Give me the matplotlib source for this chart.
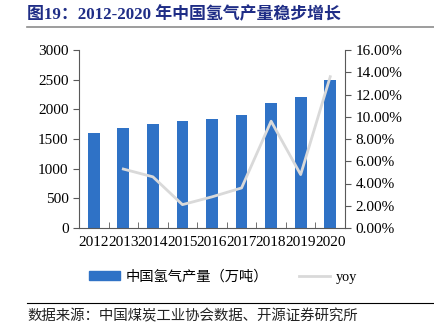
import numpy as np
import matplotlib.pyplot as plt
from matplotlib.lines import Line2D
from matplotlib.ticker import FuncFormatter

plt.rcParams['font.family'] = ['Liberation Serif', 'Noto Sans CJK SC']

# %% Daten
years = ["2012", "2013", "2014", "2015", "2016", "2017", "2018", "2019", "2020"]
output = [1600, 1680, 1760, 1800, 1840, 1910, 2100, 2200, 2500]  # 万吨
yoy = [np.nan, 5.3, 4.6, 2.1, 2.8, 3.6, 9.6, 4.8, 13.6]  # %

# %% Plot
fig = plt.figure(figsize=(4.35, 3.3), dpi=100)
ax1 = fig.add_axes([79/435, 1-228/330, (345-79)/435, (228-50)/330])
x = np.arange(len(years))
ax1.bar(x, output, width=0.4, color="#2F72C6", label="中国氢气产量（万吨）", zorder=2)
ax1.set_ylim(0, 3000)
ax1.set_yticks(np.arange(0, 3001, 500))
ax1.set_xlim(-0.5, len(years)-0.5)
ax1.set_xticks(x)
ax1.set_xticklabels(years)
ax1.tick_params(axis="x", length=0, labelsize=11, pad=6)
ax1.set_xticks(np.arange(-0.5, len(years), 1), minor=True)
ax1.tick_params(axis="x", which="minor", direction="in", length=4, color="#595959")
ax1.tick_params(axis="y", labelsize=11, length=4, color="#595959")
for s in ["top", "right"]:
    ax1.spines[s].set_visible(False)
ax1.spines["left"].set_color("#595959")
ax1.spines["bottom"].set_color("#595959")

ax2 = ax1.twinx()
ax2.plot(x, yoy, color="#D9D9D9", lw=2, label="yoy", zorder=3)
ax2.set_ylim(0, 16)
ax2.set_yticks(np.arange(0, 16.1, 2))
ax2.yaxis.set_major_formatter(FuncFormatter(lambda v, p: "%.2f%%" % v))
ax2.tick_params(axis="y", labelsize=11, length=4, color="#595959")
for s in ["top", "left", "bottom"]:
    ax2.spines[s].set_visible(False)
ax2.spines["right"].set_color("#595959")

handles = [plt.Rectangle((0, 0), 1, 1, color="#2F72C6"),
           Line2D([0], [0], color="#D9D9D9", lw=2)]
fig.legend(handles, ["中国氢气产量（万吨）", "yoy"], loc="center",
           bbox_to_anchor=(223/435, 1-277/330), ncol=2, frameon=False,
           handlelength=2.2, handleheight=0.6, handletextpad=0.4, columnspacing=2.1,
           prop={"family": ["Liberation Serif", "Noto Sans CJK SC"], "size": 10.3})

# Titel und Quelle
fig.text(27/435, 1-15/330, "图19：2012-2020 年中国氢气产量稳步增长", color="#1F2D86",
         fontsize=12.2, fontweight="bold", va="center",
         family=["Liberation Serif", "Noto Sans CJK SC"])
fig.add_artist(Line2D([27/435, 1], [1-27/330, 1-27/330], color="#8C8C8C", lw=1.2))
fig.add_artist(Line2D([27/435, 1], [1-303/330, 1-303/330], color="black", lw=0.8))
fig.text(27/435, 1-316/330, "数据来源：中国煤炭工业协会数据、开源证券研究所", color="#222222",
         fontsize=10.4, va="center", fontweight="light", family=["Noto Sans CJK SC"])

fig.savefig("out.png", dpi=100)
